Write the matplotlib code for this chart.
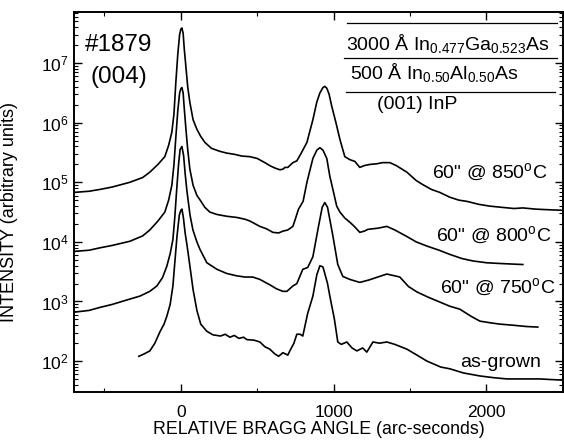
import numpy as np
from matplotlib import pyplot as plt
from matplotlib.ticker import LogLocator, MultipleLocator, NullFormatter

plt.rcParams['font.family'] = ['Liberation Sans', 'DejaVu Sans']
plt.rcParams['mathtext.fontset'] = 'custom'
plt.rcParams['mathtext.rm'] = 'Liberation Sans'
plt.rcParams['mathtext.it'] = 'Liberation Sans'

# relative Bragg angle (arc-seconds) and log10(intensity)
x_850 = [-700, -600, -530, -450, -334, -250, -203, -150, -105, -80, -59, -45, -33, -20, -8, 0, 7, 15, 22, 33,
         45, 59, 80, 105, 130, 157, 200, 255, 300, 350, 400, 452, 500, 550, 582, 615, 648, 668, 681, 700,
         733, 759, 790, 825, 864, 890, 910, 930, 942, 955, 970, 988, 1015, 1041, 1073, 1106, 1139, 1171, 1200, 1237,
         1280, 1320, 1368, 1410, 1479, 1540, 1584, 1640, 1695, 1760, 1820, 1872, 1950, 2022, 2100, 2180,
         2238, 2320, 2400, 2500]
y_850 = [4.83, 4.85, 4.88, 4.92, 5.00, 5.08, 5.17, 5.30, 5.43, 5.62, 5.84, 6.15, 6.67, 7.15, 7.48, 7.57, 7.59,
         7.50, 7.25, 6.94, 6.60, 6.34, 6.05, 5.89, 5.77, 5.67, 5.57, 5.52, 5.49, 5.47, 5.44, 5.43, 5.40, 5.33,
         5.28, 5.24, 5.21, 5.22, 5.25, 5.25, 5.33, 5.36, 5.50, 5.67, 6.05, 6.35, 6.50, 6.59, 6.61, 6.58, 6.48,
         6.27, 6.00, 5.72, 5.43, 5.38, 5.35, 5.25, 5.28, 5.30, 5.31, 5.33, 5.33, 5.28, 5.17, 5.03, 4.96, 4.88,
         4.83, 4.75, 4.70, 4.68, 4.63, 4.60, 4.58, 4.56, 4.57, 4.55, 4.54, 4.53]

x_800 = [-700, -600, -530, -450, -334, -250, -203, -150, -105, -80, -59, -45, -33, -20, -8, 0, 7, 15, 22, 33,
         45, 59, 80, 105, 124, 157, 190, 236, 300, 366, 420, 452, 517, 560, 602, 640, 668, 700, 733, 745,
         770, 800, 825, 864, 890, 910, 930, 955, 975, 995, 1020, 1041, 1073, 1106, 1139, 1171, 1200, 1224,
         1290, 1348, 1400, 1479, 1540, 1610, 1690, 1760, 1840, 1911, 2000, 2068, 2150, 2238]
y_800 = [3.84, 3.86, 3.90, 3.94, 4.01, 4.10, 4.20, 4.35, 4.50, 4.70, 4.95, 5.30, 5.75, 6.20, 6.50, 6.57, 6.59,
         6.50, 6.25, 5.90, 5.55, 5.22, 4.95, 4.78, 4.71, 4.58, 4.50, 4.46, 4.43, 4.41, 4.38, 4.35, 4.26, 4.22,
         4.16, 4.15, 4.18, 4.20, 4.26, 4.35, 4.55, 4.68, 5.00, 5.40, 5.54, 5.58, 5.54, 5.40, 5.10, 4.88, 4.60,
         4.50, 4.40, 4.33, 4.25, 4.16, 4.18, 4.21, 4.23, 4.26, 4.20, 4.09, 4.00, 3.93, 3.86, 3.79, 3.72, 3.68,
         3.65, 3.64, 3.63, 3.62]

x_750 = [-700, -600, -530, -450, -334, -268, -203, -157, -120, -92, -70, -52, -40, -28, -15, -5, 7, 18, 28, 40,
         55, 60, 79, 105, 124, 170, 236, 300, 366, 420, 471, 517, 582, 628, 668, 694, 733, 759, 798, 830,
         864, 900, 925, 942, 960, 995, 1027, 1060, 1106, 1171, 1230, 1300, 1348, 1400, 1433, 1490, 1545, 1620,
         1695, 1760, 1826, 1900, 1957, 2030, 2088, 2180, 2260, 2336]
y_750 = [2.82, 2.85, 2.90, 2.95, 3.04, 3.09, 3.17, 3.26, 3.40, 3.59, 3.80, 4.04, 4.40, 4.85, 5.30, 5.55, 5.60,
         5.45, 5.15, 4.85, 4.55, 4.45, 4.20, 4.00, 3.88, 3.65, 3.54, 3.47, 3.43, 3.41, 3.41, 3.37, 3.28, 3.21,
         3.17, 3.17, 3.26, 3.30, 3.54, 3.57, 3.75, 4.25, 4.58, 4.66, 4.58, 4.10, 3.62, 3.42, 3.37, 3.32, 3.36,
         3.42, 3.46, 3.43, 3.41, 3.25, 3.16, 3.07, 2.99, 2.92, 2.87, 2.75, 2.67, 2.64, 2.62, 2.60, 2.58, 2.57]

x_grown = [-275, -240, -203, -170, -137, -110, -92, -70, -52, -38, -25, -10, 0, 7, 17, 28, 40, 59, 80, 105,
           130, 170, 210, 260, 290, 321, 350, 380, 410, 432, 480, 517, 550, 582, 615, 640, 668, 700, 713,
           740, 759, 780, 798, 830, 864, 890, 910, 930, 960, 975, 1005, 1027, 1050, 1086, 1120, 1152, 1190,
           1217, 1257, 1300, 1348, 1400, 1479, 1545, 1610, 1700, 1760, 1850, 1957, 2050, 2134, 2250, 2349,
           2420, 2500]
y_grown = [2.08, 2.12, 2.17, 2.30, 2.49, 2.62, 2.75, 2.95, 3.26, 3.70, 4.10, 4.45, 4.53, 4.55, 4.40, 4.15,
           3.95, 3.60, 3.20, 2.85, 2.62, 2.50, 2.44, 2.42, 2.45, 2.40, 2.43, 2.38, 2.40, 2.36, 2.35, 2.32, 2.24,
           2.20, 2.12, 2.08, 2.14, 2.10, 2.17, 2.30, 2.45, 2.45, 2.42, 2.80, 3.09, 3.45, 3.60, 3.58, 3.30, 3.09,
           2.70, 2.32, 2.28, 2.32, 2.22, 2.17, 2.22, 2.15, 2.32, 2.30, 2.32, 2.28, 2.20, 2.10, 2.00, 1.90, 1.87,
           1.80, 1.75, 1.72, 1.70, 1.70, 1.70, 1.69, 1.68]

curve_labels = ['60" @ 850$^{\\rm o}$C', '60" @ 800$^{\\rm o}$C', '60" @ 750$^{\\rm o}$C', 'as-grown']
y_major = [1e2, 1e3, 1e4, 1e5, 1e6, 1e7]

fig = plt.figure(figsize=(5.64, 4.40), dpi=100)
ax = fig.add_axes([0.131, 0.109, 0.867, 0.864])

for xs, ys in [(x_850, y_850), (x_800, y_800), (x_750, y_750), (x_grown, y_grown)]:
    ax.plot(xs, 10 ** np.array(ys), color='black', lw=1.2)

ax.set_yscale('log')
ax.set_xlim(-700, 2500)
ax.set_ylim(10 ** 1.48, 10 ** 7.86)
ax.xaxis.set_major_locator(MultipleLocator(1000))
ax.xaxis.set_minor_locator(MultipleLocator(500))
ax.set_yticks(y_major)
ax.yaxis.set_minor_locator(LogLocator(base=10, subs=np.arange(2, 10), numticks=20))
ax.yaxis.set_minor_formatter(NullFormatter())
ax.tick_params(which='both', direction='in', top=True, right=True, labelsize=12.5)
ax.tick_params(which='major', length=6, width=1)
ax.tick_params(which='minor', length=3, width=0.8)
ax.tick_params(axis='x', which='major', pad=9)
for s in ax.spines.values():
    s.set_linewidth(1.4)

ax.set_xlabel('RELATIVE BRAGG ANGLE (arc-seconds)', fontsize=12.8, va='baseline')
ax.xaxis.set_label_coords(0.5, -0.110)
ax.set_ylabel('INTENSITY (arbitrary units)', fontsize=13)
ax.yaxis.set_label_coords(-0.115, 0.474)

ax.text(0.092, 0.913, '#1879', transform=ax.transAxes, fontsize=17.5, ha='center', va='center')
ax.text(0.092, 0.829, '(004)', transform=ax.transAxes, fontsize=17.5, ha='center', va='center')

label_pos = [(0.969, 0.579), (0.977, 0.413), (0.984, 0.276), (0.955, 0.079)]
for txt, (tx, ty) in zip(curve_labels, label_pos):
    ax.text(tx, ty, txt, transform=ax.transAxes, fontsize=14, ha='right', va='center')

# layer stack sketch
for ly, x0, x1 in [(0.971, 0.558, 0.988), (0.879, 0.553, 0.988), (0.789, 0.557, 0.984)]:
    ax.plot([x0, x1], [ly, ly], transform=ax.transAxes, color='black', lw=0.9)
ax.text(0.764, 0.917, '3000 Å In$_{0.477}$Ga$_{0.523}$As', transform=ax.transAxes, fontsize=14,
        ha='center', va='center')
ax.text(0.737, 0.840, '500 Å In$_{0.50}$Al$_{0.50}$As', transform=ax.transAxes, fontsize=14,
        ha='center', va='center')
ax.text(0.703, 0.757, '(001) InP', transform=ax.transAxes, fontsize=14, ha='center', va='center')

fig.savefig('out.png', dpi=100)
